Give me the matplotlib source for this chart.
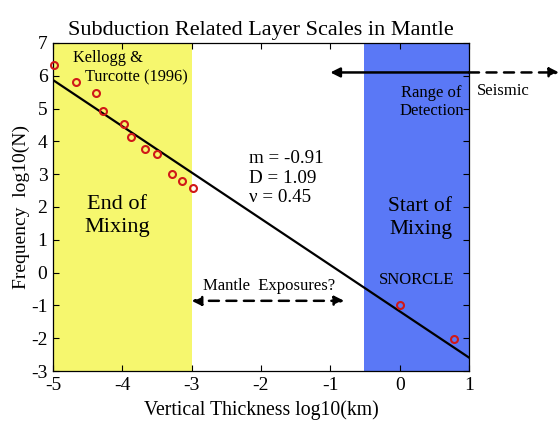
import matplotlib
matplotlib.use("Agg")
import matplotlib.pyplot as plt

plt.rcParams['font.family'] = ['Liberation Serif', 'DejaVu Serif']
plt.rcParams['axes.unicode_minus'] = False

# Layer thickness (log10 km) vs frequency (log10 N)
kt_x = [-4.98, -4.67, -4.38, -4.28, -3.98, -3.87, -3.68, -3.50, -3.28, -3.14, -2.98]
kt_y = [6.33, 5.80, 5.47, 4.93, 4.53, 4.13, 3.77, 3.60, 2.99, 2.80, 2.59]
snorcle_x = [0.0, 0.78]
snorcle_y = [-1.0, -2.03]

# Fitted power-law line
fit_x = [-5.0, 1.0]
fit_y = [5.87, -2.59]

# Shaded regimes
mixing_end = (-5.0, -3.0)
seismic_range = (-0.52, 1.0)

x_ticks = [-5, -4, -3, -2, -1, 0, 1]
y_ticks = [-3, -2, -1, 0, 1, 2, 3, 4, 5, 6, 7]

fig = plt.figure(figsize=(5.6, 4.25), dpi=100)
ax = fig.add_axes([0.0946, 0.127, 0.7429, 0.772])

ax.axvspan(*mixing_end, color='#f6f76e', zorder=0, lw=0)
ax.axvspan(*seismic_range, color='#5a78f6', zorder=0, lw=0)

ax.plot(fit_x, fit_y, color='black', lw=1.6, zorder=2)
ax.plot(kt_x, kt_y, 'o', ms=5, mfc='none', mec='#d01818', mew=1.5, zorder=3, clip_on=False)
ax.plot(snorcle_x, snorcle_y, 'o', ms=5, mfc='none', mec='#d01818', mew=1.5, zorder=3, clip_on=False)

ax.set_xlim(-5, 1)
ax.set_ylim(-3, 7)
ax.set_xticks(x_ticks)
ax.set_yticks(y_ticks)
ax.tick_params(direction='in', top=True, right=True, labelsize=14, length=4, width=0.8, pad=4)
for s in ax.spines.values():
    s.set_linewidth(0.9)

ax.set_title('Subduction Related Layer Scales in Mantle', fontsize=16, pad=6)
ax.set_xlabel('Vertical Thickness log10(km)', fontsize=14.2, labelpad=5)
ax.set_ylabel('Frequency  log10(N)', fontsize=14, labelpad=1)

ax.text(-4.71, 6.55, 'Kellogg &', fontsize=11.8, ha='left', va='center')
ax.text(-4.54, 5.95, 'Turcotte (1996)', fontsize=11.8, ha='left', va='center')
ax.text(-4.08, 1.73, 'End of\nMixing', fontsize=16, ha='center', va='center', linespacing=1.25)
ax.text(-2.17, 2.88, 'm = -0.91\nD = 1.09\n\u03bd = 0.45', fontsize=13.7, ha='left', va='center',
        linespacing=1.2)
ax.text(0.30, 1.66, 'Start of\nMixing', fontsize=15.5, ha='center', va='center', linespacing=1.25)
ax.text(0.24, -0.22, 'SNORCLE', fontsize=12, ha='center', va='center')
ax.text(0.46, 5.2, 'Range of\nDetection', fontsize=12, ha='center', va='center', linespacing=1.15)
ax.text(1.49, 5.52, 'Seismic', fontsize=12, ha='center', va='center', clip_on=False)
ax.text(-1.89, -0.40, 'Mantle  Exposures?', fontsize=12, ha='center', va='center')

# Mantle exposure range arrow
ax.annotate('', xy=(-3.0, -0.86), xytext=(-0.8, -0.86),
            arrowprops=dict(arrowstyle='<|-|>', lw=1.8, ls=(0, (4, 3)), color='black',
                            mutation_scale=14, shrinkA=0, shrinkB=0))
# Seismic detection range: solid within the axes, dashed beyond
ax.annotate('', xy=(-1.0, 6.1), xytext=(1.0, 6.1),
            arrowprops=dict(arrowstyle='-|>', lw=1.8, color='black',
                            mutation_scale=14, shrinkA=0, shrinkB=0), annotation_clip=False)
ax.annotate('', xy=(2.3, 6.1), xytext=(1.0, 6.1),
            arrowprops=dict(arrowstyle='-|>', lw=1.8, ls=(0, (4, 3)), color='black',
                            mutation_scale=14, shrinkA=0, shrinkB=0), annotation_clip=False)

fig.savefig('out.png', dpi=100)
